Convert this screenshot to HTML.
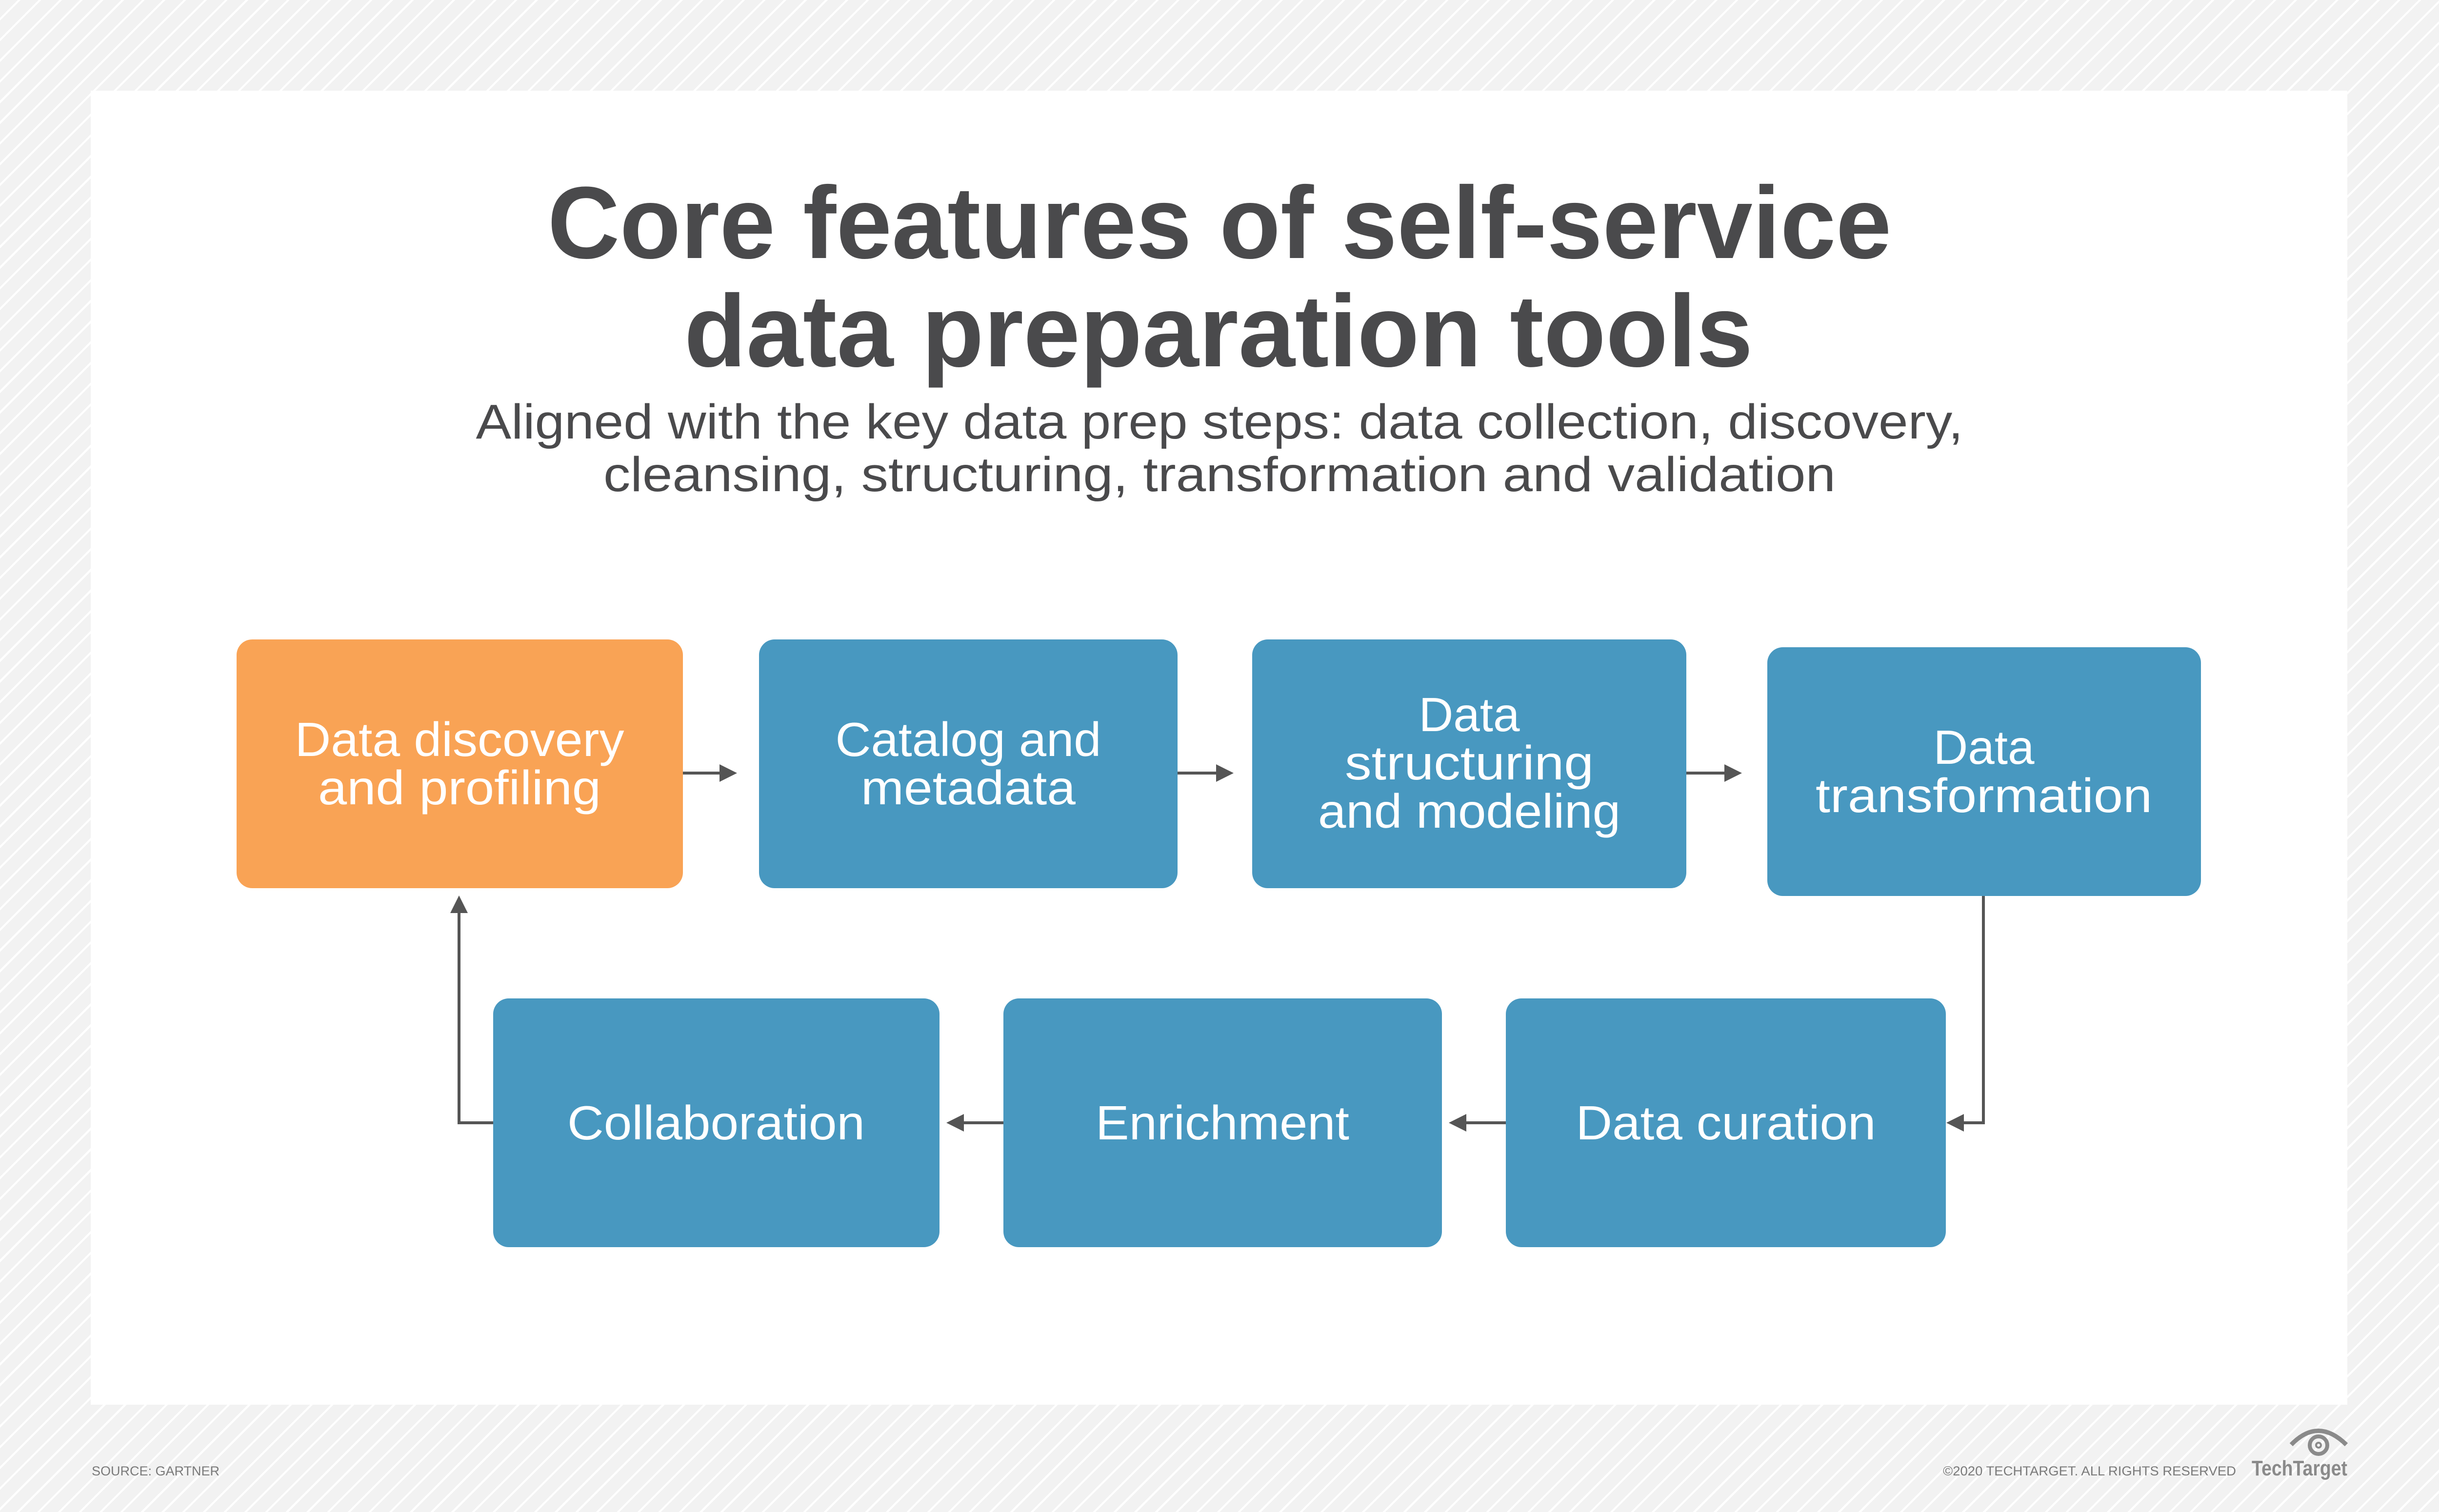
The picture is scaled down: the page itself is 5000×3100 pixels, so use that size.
<!DOCTYPE html>
<html><head><meta charset="utf-8"><style>
html,body{margin:0;padding:0;}
body{width:5000px;height:3100px;overflow:hidden;background:#f2f2f2;
background-image:repeating-linear-gradient(135deg,#f2f2f2 0px,#f2f2f2 26px,#ffffff 26px,#ffffff 30px);}
svg{position:absolute;left:0;top:0;}
</style></head><body>
<svg width="5000" height="3100" viewBox="0 0 5000 3100" xmlns="http://www.w3.org/2000/svg">
<defs>
<marker id="ah" markerWidth="6" markerHeight="6" refX="5" refY="3" orient="auto" markerUnits="strokeWidth">
<path d="M0,0 L6,3 L0,6 z" fill="#555"/>
</marker>
</defs>
<rect x="186" y="186" width="4626" height="2694" fill="#ffffff"/>
<g font-family="Liberation Sans, sans-serif" fill="#4a4a4c" text-anchor="middle">
<text x="2500" y="529" font-size="210" font-weight="bold" textLength="2755" lengthAdjust="spacingAndGlyphs">Core features of self-service</text>
<text x="2498" y="751" font-size="210" font-weight="bold" textLength="2191" lengthAdjust="spacingAndGlyphs">data preparation tools</text>
<text x="2500" y="899" font-size="100" textLength="3049" lengthAdjust="spacingAndGlyphs">Aligned with the key data prep steps: data collection, discovery,</text>
<text x="2500" y="1007" font-size="100" textLength="2526" lengthAdjust="spacingAndGlyphs">cleansing, structuring, transformation and validation</text>
</g>
<g>
<rect x="485" y="1311" width="915" height="510" rx="32" fill="#F9A355"/>
<rect x="1556" y="1311" width="858" height="510" rx="32" fill="#4898C0"/>
<rect x="2567" y="1311" width="890" height="510" rx="32" fill="#4898C0"/>
<rect x="3623" y="1327" width="889" height="510" rx="32" fill="#4898C0"/>
<rect x="1011" y="2047" width="915" height="510" rx="32" fill="#4898C0"/>
<rect x="2057" y="2047" width="899" height="510" rx="32" fill="#4898C0"/>
<rect x="3087" y="2047" width="902" height="510" rx="32" fill="#4898C0"/>
</g>
<g font-family="Liberation Sans, sans-serif" font-size="98" fill="#ffffff" text-anchor="middle">
<text x="942" y="1550" textLength="675" lengthAdjust="spacingAndGlyphs">Data discovery</text>
<text x="942" y="1649" textLength="580" lengthAdjust="spacingAndGlyphs">and profiling</text>
<text x="1985" y="1550" textLength="545" lengthAdjust="spacingAndGlyphs">Catalog and</text>
<text x="1985" y="1649" textLength="440" lengthAdjust="spacingAndGlyphs">metadata</text>
<text x="3012" y="1499">Data</text>
<text x="3012" y="1598" textLength="510" lengthAdjust="spacingAndGlyphs">structuring</text>
<text x="3012" y="1697" textLength="620" lengthAdjust="spacingAndGlyphs">and modeling</text>
<text x="4067" y="1566">Data</text>
<text x="4067" y="1665" textLength="690" lengthAdjust="spacingAndGlyphs">transformation</text>
<text x="1468" y="2336" textLength="610" lengthAdjust="spacingAndGlyphs">Collaboration</text>
<text x="2506" y="2336" textLength="520" lengthAdjust="spacingAndGlyphs">Enrichment</text>
<text x="3538" y="2336" textLength="615" lengthAdjust="spacingAndGlyphs">Data curation</text>
</g>
<g stroke="#555" stroke-width="6" fill="none">
<line x1="1400" y1="1585" x2="1505" y2="1585" marker-end="url(#ah)"/>
<line x1="2414" y1="1585" x2="2523" y2="1585" marker-end="url(#ah)"/>
<line x1="3457" y1="1585" x2="3565" y2="1585" marker-end="url(#ah)"/>
<polyline points="4066,1837 4066,2302 3996,2302" marker-end="url(#ah)"/>
<line x1="3087" y1="2302" x2="2976" y2="2302" marker-end="url(#ah)"/>
<line x1="2057" y1="2302" x2="1946" y2="2302" marker-end="url(#ah)"/>
<polyline points="1011,2302 941,2302 941,1842" marker-end="url(#ah)"/>
</g>
<g font-family="Liberation Sans, sans-serif" fill="#7a7a7a">
<text x="188" y="3025" font-size="27">SOURCE: GARTNER</text>
<text x="3983" y="3025" font-size="27" textLength="601" lengthAdjust="spacingAndGlyphs">©2020 TECHTARGET. ALL RIGHTS RESERVED</text>
<text x="4616" y="3025" font-size="44" font-weight="bold" fill="#8a8a8a" textLength="196" lengthAdjust="spacingAndGlyphs">TechTarget</text>
</g>
<g fill="none" stroke="#8a8a8a">
<path d="M4697,2962 Q4752,2905 4810,2962" stroke-width="9"/>
<circle cx="4753" cy="2963" r="18" stroke-width="8"/>
<circle cx="4753" cy="2963" r="5" stroke-width="4"/>
</g>
</svg>
</body></html>
